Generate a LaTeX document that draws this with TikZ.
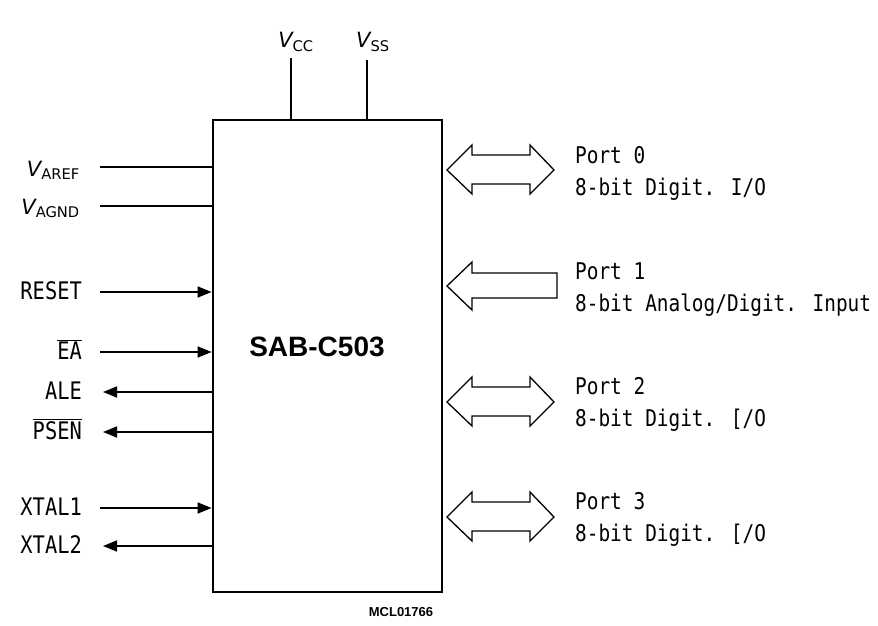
\documentclass[tikz,border=0pt]{standalone}
\usepackage{fontspec}
\setmainfont{DejaVu Sans Mono}
\newfontfamily\arialf{Liberation Sans}
\newfontfamily\dvsans{DejaVu Sans}
\usetikzlibrary{arrows.meta}
\newcommand\talltxt[1]{\scalebox{0.97}[1.15]{#1}}
\begin{document}
\begin{tikzpicture}[x=1pt,y=-1pt,
  sig/.style={line width=1.6pt},
  inarr/.style={sig,-{Triangle[length=14pt,width=11pt]}},
  lbl/.style={anchor=base east,inner sep=0pt,font=\fontsize{21}{23}\selectfont},
  vlbl/.style={anchor=base east,inner sep=0pt,font=\dvsans\fontsize{21}{23}\selectfont},
  ptxt/.style={anchor=base west,inner sep=0pt,font=\fontsize{20}{22}\selectfont},
  portarr/.style={draw,line width=1.3pt,fill=white,line join=miter}]
\useasboundingbox (0,0) rectangle (878,626);
% chip
\node[draw,line width=2.8pt,minimum width=229pt,minimum height=472pt,inner sep=0pt] (chip) at (327.5,356) {};
\node[font=\arialf\bfseries\fontsize{28}{30}\selectfont,inner sep=0pt] (name) at (317,347) {SAB-C503};
\node[font=\arialf\bfseries\fontsize{13}{14}\selectfont,inner sep=0pt] (code) at (401,612) {MCL01766};
% supply pins
\node[vlbl,anchor=base] (vcc) at (296,48) {\itshape V\textsubscript{\upshape CC}};
\node[vlbl,anchor=base] (vss) at (373,48) {\itshape V\textsubscript{\upshape SS}};
\coordinate (vcctop) at (291,58);
\coordinate (vsstop) at (367,60);
\draw[sig] (vcctop) -- (vcctop |- chip.north);
\draw[sig] (vsstop) -- (vsstop |- chip.north);
% analog reference
\node[vlbl] (varef) at (80,176) {\itshape V\textsubscript{\upshape AREF}};
\node[vlbl] (vagnd) at (80,214) {\itshape V\textsubscript{\upshape AGND}};
\coordinate (varefs) at (100,167);
\coordinate (vagnds) at (100,206);
\draw[sig] (varefs) -- (varefs -| chip.west);
\draw[sig] (vagnds) -- (vagnds -| chip.west);
% control signals
\node[lbl] (reset) at (82,299) {\talltxt{RESET}};
\node[lbl] (ea) at (82,359) {\talltxt{$\overline{\mbox{EA}}$}};
\node[lbl] (ale) at (82,399) {\talltxt{ALE}};
\node[lbl] (psen) at (82,439) {\talltxt{$\overline{\mbox{PSEN}}$}};
\node[lbl] (xtal1) at (82,515) {\talltxt{XTAL1}};
\node[lbl] (xtal2) at (82,553) {\talltxt{XTAL2}};
\coordinate (resets) at (100,292);
\coordinate (eas) at (100,352);
\coordinate (alee) at (103,392);
\coordinate (psene) at (103,432);
\coordinate (xtal1s) at (100,508);
\coordinate (xtal2e) at (103,546);
\draw[inarr] (resets) -- (resets -| chip.west);
\draw[inarr] (eas) -- (eas -| chip.west);
\draw[inarr] (alee -| chip.west) -- (alee);
\draw[inarr] (psene -| chip.west) -- (psene);
\draw[inarr] (xtal1s) -- (xtal1s -| chip.west);
\draw[inarr] (xtal2e -| chip.west) -- (xtal2e);
% ports
\path[portarr] (447,170) -- (472,145) -- (472,155) -- (530,155) -- (530,145) -- (554,170)
  -- (530,194) -- (530,184) -- (472,184) -- (472,194) -- cycle;
\path[portarr] (447,286) -- (472,262) -- (472,273) -- (557,273) -- (557,298)
  -- (472,298) -- (472,310) -- cycle;
\path[portarr] (447,402) -- (472,377) -- (472,387) -- (530,387) -- (530,377) -- (554,402)
  -- (530,426) -- (530,416) -- (472,416) -- (472,426) -- cycle;
\path[portarr] (447,517) -- (472,492) -- (472,502) -- (530,502) -- (530,492) -- (554,517)
  -- (530,541) -- (530,531) -- (472,531) -- (472,541) -- cycle;
\node[ptxt] (p0a) at (575,163) {\talltxt{Port 0}};
\node[ptxt] (p0b) at (575,195) {\talltxt{8-bit Digit. I/O}};
\node[ptxt] (p1a) at (575,279) {\talltxt{Port 1}};
\node[ptxt] (p1b) at (575,311) {\talltxt{8-bit Analog/Digit. Input}};
\node[ptxt] (p2a) at (575,394) {\talltxt{Port 2}};
\node[ptxt] (p2b) at (575,426) {\talltxt{8-bit Digit. [/O}};
\node[ptxt] (p3a) at (575,509) {\talltxt{Port 3}};
\node[ptxt] (p3b) at (575,541) {\talltxt{8-bit Digit. [/O}};
\end{tikzpicture}
\end{document}
